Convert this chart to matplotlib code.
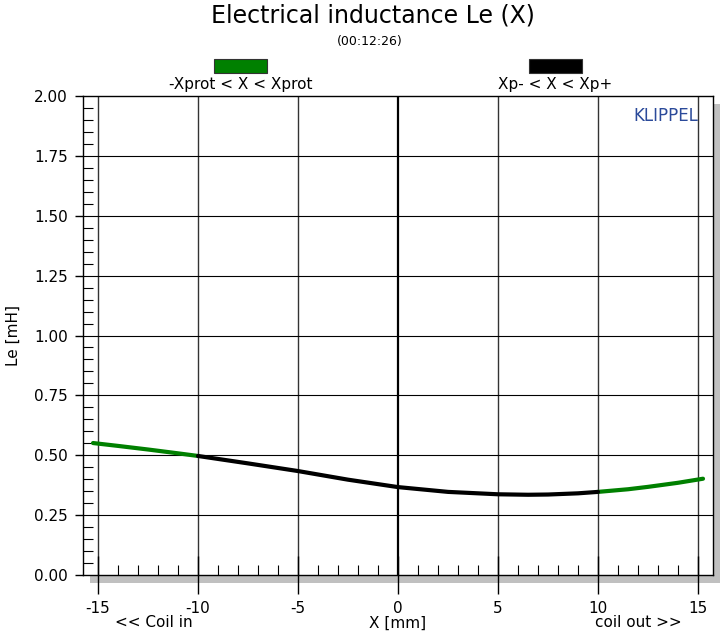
import numpy as np
import matplotlib.pyplot as plt
from matplotlib.patches import Rectangle

plt.rcParams['font.family'] = ['DejaVu Sans']

# displacement [mm] and inductance [mH]
x_outer_left = [-15.25, -14.0, -12.5, -11.0, -10.0]
le_outer_left = [0.551, 0.539, 0.524, 0.508, 0.497]
x_inner = [-10.0, -7.5, -5.0, -2.5, 0.0, 2.5, 5.0, 6.5, 7.5, 9.0, 10.0]
le_inner = [0.497, 0.466, 0.434, 0.398, 0.367, 0.347, 0.337, 0.335, 0.336, 0.341, 0.347]
x_outer_right = [10.0, 11.5, 12.5, 14.0, 15.25]
le_outer_right = [0.347, 0.358, 0.368, 0.385, 0.402]

x_ticks = [-15, -10, -5, 0, 5, 10, 15]
y_ticks = [0.0, 0.25, 0.5, 0.75, 1.0, 1.25, 1.5, 1.75, 2.0]

fig = plt.figure(figsize=(7.2, 6.35), dpi=100)
ax = fig.add_axes([0.1153, 0.0945, 0.875, 0.7543])
ax.set_zorder(2)
ax.set_facecolor('white')

# drop shadow behind the plot frame
W, H = 720, 635
fig.patches.append(Rectangle(((83 + 7) / W, (60 - 8) / H), 630 / W, 479 / H,
                             transform=fig.transFigure, facecolor='#c0c0c0',
                             edgecolor='none', zorder=-1))

ax.set_xlim(-15.75, 15.75)
ax.set_ylim(0, 2)

for xv in x_ticks:
    if xv == 0:
        ax.axvline(xv, color='black', lw=1.6, zorder=1)
    else:
        ax.axvline(xv, color='#333333', lw=1.0, zorder=1)
for yv in y_ticks[1:-1]:
    ax.axhline(yv, color='black', lw=0.8, zorder=1)

ax.plot(x_outer_left, le_outer_left, color='#008000', lw=3, solid_capstyle='round', zorder=3)
ax.plot(x_outer_right, le_outer_right, color='#008000', lw=3, solid_capstyle='round', zorder=3)
ax.plot(x_inner, le_inner, color='black', lw=3, solid_capstyle='round', zorder=4)

ax.set_xticks(x_ticks)
ax.set_xticklabels(['-15', '-10', '-5', '0', '5', '10', '15'])
ax.set_yticks(y_ticks)
ax.set_yticklabels(['%.2f' % v for v in y_ticks])
ax.set_xticks(np.arange(-15, 16, 1), minor=True)
ax.set_yticks(np.arange(0, 2.0001, 0.05), minor=True)
ax.tick_params(axis='x', which='major', direction='inout', length=28, width=1, labelsize=11, pad=5)
ax.tick_params(axis='y', which='major', direction='out', length=6, width=1, labelsize=11, pad=5)
ax.tick_params(which='minor', direction='in', length=7, width=0.8)
ax.tick_params(axis='x', which='minor', bottom=True, top=False)
ax.tick_params(axis='y', which='minor', left=True, right=False)
for sp in ax.spines.values():
    sp.set_linewidth(1.0)

ax.text(-0.111, 0.5, 'Le [mH]', transform=ax.transAxes, rotation=90,
        ha='center', va='center', fontsize=11)
ax.text(0, -0.2, 'X [mm]', ha='center', va='center', fontsize=11, clip_on=False)
ax.text(-12.2, -0.2, '<< Coil in', ha='center', va='center', fontsize=11, clip_on=False)
ax.text(12.0, -0.2, 'coil out >>', ha='center', va='center', fontsize=11, clip_on=False)

ax.text(0.976, 0.958, 'KLIPPEL', transform=ax.transAxes, ha='right', va='center',
        color='#2b4a9a', fontsize=12)

fig.text(373 / W, 1 - 15 / H, 'Electrical inductance Le (X)', ha='center', va='center', fontsize=17)
fig.text(370 / W, 1 - 41 / H, '(00:12:26)', ha='center', va='center', fontsize=9)

# legend boxes above the plot
fig.patches.append(Rectangle((214 / W, 1 - 73 / H), 53 / W, 14 / H, transform=fig.transFigure,
                             facecolor='#008000', edgecolor='#333333', lw=0.8))
fig.patches.append(Rectangle((529 / W, 1 - 73 / H), 53 / W, 14 / H, transform=fig.transFigure,
                             facecolor='black', edgecolor='#333333', lw=0.8))
fig.text(241 / W, 1 - 85 / H, '-Xprot < X < Xprot', ha='center', va='center', fontsize=11)
fig.text(555 / W, 1 - 85 / H, 'Xp- < X < Xp+', ha='center', va='center', fontsize=11)

fig.savefig('out.png', dpi=100)
